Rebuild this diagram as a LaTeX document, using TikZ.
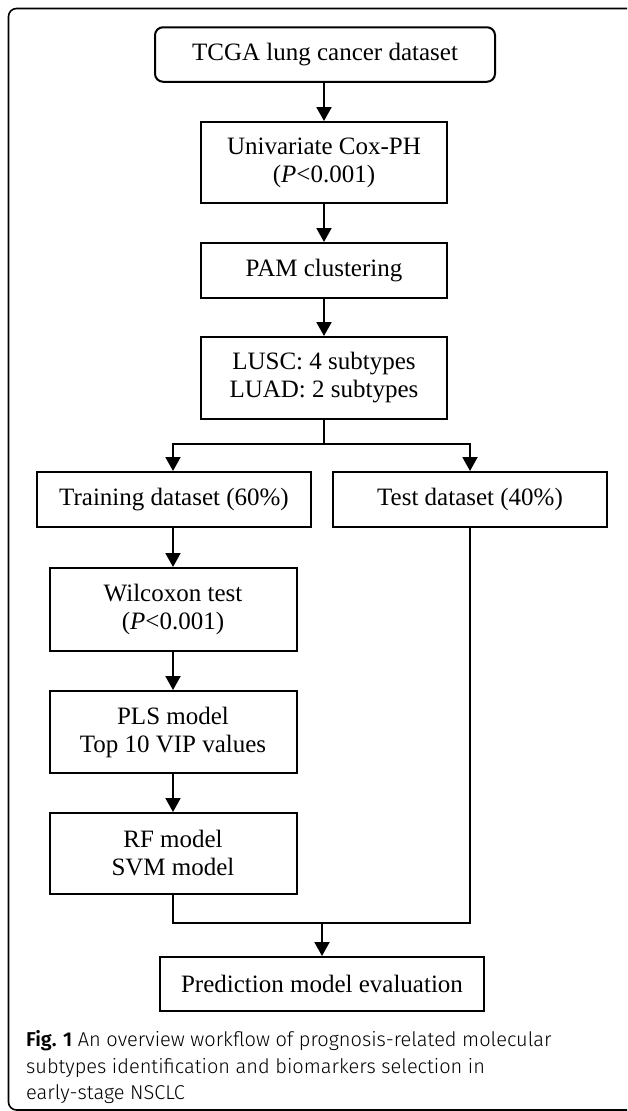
\documentclass[tikz,border=0pt]{standalone}
\usepackage{fontspec}
\setmainfont{Liberation Serif}
\setsansfont{Fira Sans Light}[BoldFont={Fira Sans SemiBold}]
\usetikzlibrary{arrows.meta}
\begin{document}
\begin{tikzpicture}[x=1pt,y=-1pt,
  box/.style={draw,line width=2pt,align=center,inner sep=0pt,
    font=\fontsize{25}{28}\selectfont},
  conn/.style={line width=2pt},
  arr/.style={line width=2pt,-{Triangle[length=14pt,width=15pt]}},
  captext/.style={anchor=base west,inner sep=0pt,font=\sffamily\fontsize{20}{26}\selectfont}]
\useasboundingbox (0,0) rectangle (627,1111);
\clip (0,0) rectangle (627,1111);
\fill[white] (0,0) rectangle (627,1111);
% frame
\draw[line width=1.6pt,rounded corners=8pt] (640,8.5) -- (8.5,8.5) -- (8.5,1110) -- (640,1110);
% nodes
\node[box,rounded corners=8pt,minimum width=340pt,minimum height=54.5pt] (tcga) at (325,54.5) {TCGA lung cancer dataset};
\node[box,minimum width=246pt,minimum height=81pt] (univ) at (324,162.5) {Univariate Cox-PH\\(\textit{P}<0.001)};
\node[box,minimum width=246pt,minimum height=55pt] (pam) at (324,270.5) {PAM clustering};
\node[box,minimum width=246pt,minimum height=82pt] (lusc) at (324,378) {LUSC: 4 subtypes\\LUAD: 2 subtypes};
\node[box,minimum width=274pt,minimum height=55pt] (train) at (174,499.5) {Training dataset (60\%)};
\node[box,minimum width=274pt,minimum height=55pt] (test) at (470,499.5) {Test dataset (40\%)};
\node[box,minimum width=247pt,minimum height=83pt] (wil) at (173,609.5) {Wilcoxon test\\(\textit{P}<0.001)};
\node[box,minimum width=247pt,minimum height=82pt] (pls) at (173,732) {PLS model\\Top 10 VIP values};
\node[box,minimum width=247pt,minimum height=81pt] (rf) at (173,853.5) {RF model\\SVM model};
\node[box,minimum width=324pt,minimum height=54pt] (pred) at (322,984) {Prediction model evaluation};
\coordinate (split) at (324,444);
\coordinate (join) at (322,923);
% connectors
\draw[arr] (tcga.south -| univ.north) -- (univ.north);
\draw[arr] (univ.south) -- (pam.north);
\draw[arr] (pam.south) -- (lusc.north);
\draw[conn] (lusc.south) -- (split);
\draw[arr] (split) -| (train.north -| wil.north);
\draw[arr] (split) -| (test.north);
\draw[arr] (train.south -| wil.north) -- (wil.north);
\draw[arr] (wil) -- (pls);
\draw[arr] (pls) -- (rf);
\draw[conn] (rf.south) |- (test.south |- join) -- (test.south);
\draw[arr] (join) -- (pred.north);
% caption
\node[captext] (c1) at (26,1046) {\textbf{Fig. 1} An overview workflow of prognosis-related molecular};
\node[captext] (c2) at (26,1073) {subtypes identification and biomarkers selection in};
\node[captext] (c3) at (26,1099.5) {early-stage NSCLC};
\end{tikzpicture}
\end{document}
